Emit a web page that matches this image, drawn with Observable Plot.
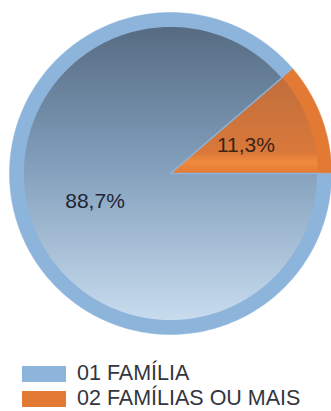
<!DOCTYPE html>
<html>
<head>
<meta charset="utf-8">
<script src="https://cdn.jsdelivr.net/npm/d3@7"></script>
<script src="https://cdn.jsdelivr.net/npm/@observablehq/plot@0.6"></script>
<style>
  html, body { margin: 0; padding: 0; background: #fff; overflow: hidden; }
  #chart { width: 331px; height: 411px; position: relative; }
  #legend { position: relative; height: 61px; font-family: "Liberation Sans", Arial, sans-serif; font-size: 21.5px; color: #333640; }
  .sw { position: absolute; left: 22px; width: 44px; height: 16px; }
  .lb { position: absolute; left: 77px; top: 0; line-height: 21px; white-space: nowrap; }
</style>
</head>
<body>
<div id="chart"></div>
<script>
// ---- data ----
const categories = ["01 FAMÍLIA", "02 FAMÍLIAS OU MAIS"];
const values = [88.7, 11.3];
const labels = ["88,7%", "11,3%"];
// drawing order: the orange slice starts at 3 o'clock, counter-clockwise
const drawOrder = [1, 0];

const rimColors = ["#8db4db", "#e27a33"];
const gradIds = ["gBlue", "gOrange"];

// compute slice angles (math convention, counter-clockwise from +x)
const total = d3.sum(values);
const slices = [];
let acc = 0;
for (const i of drawOrder) {
  const a0 = acc / total * 2 * Math.PI;
  acc += values[i];
  const a1 = acc / total * 2 * Math.PI;
  slices.push({i, cat: categories[i], value: values[i], label: labels[i], a0, a1});
}

function wedge(s, r) {
  const pts = [{x: 0, y: 0, cat: s.cat}];
  const n = Math.max(4, Math.ceil((s.a1 - s.a0) / (Math.PI / 180)));
  for (let k = 0; k <= n; k++) {
    const a = s.a0 + (s.a1 - s.a0) * k / n;
    pts.push({x: r * Math.cos(a), y: r * Math.sin(a), cat: s.cat});
  }
  return pts;
}

const marks = [];
for (const s of slices) {
  marks.push(Plot.line(wedge(s, 1), {x: "x", y: "y", curve: "linear-closed", fill: rimColors[s.i], stroke: rimColors[s.i], strokeWidth: 0.5}));
}
for (const s of slices) {
  marks.push(Plot.line(wedge(s, 0.915), {x: "x", y: "y", curve: "linear-closed", fill: `url(#${gradIds[s.i]})`,
    stroke: s.i === 0 ? "#8db4db" : "none", strokeWidth: s.i === 0 ? 1.5 : 0}));
}
const labelData = slices.map(s => {
  const m = (s.a0 + s.a1) / 2;
  return {x: 0.5 * Math.cos(m), y: 0.5 * Math.sin(m), label: s.label, i: s.i};
});
marks.push(Plot.text(labelData, {x: "x", y: "y", text: "label", fontSize: 21,
  fontFamily: "Liberation Sans, Arial, sans-serif", fill: d => d.i === 0 ? "#1e2535" : "#3a2414"}));

const svg = Plot.plot({
  width: 331,
  height: 350,
  marginLeft: 9, marginRight: 0, marginTop: 12, marginBottom: 16,
  x: {domain: [-1, 1], axis: null},
  y: {domain: [-1, 1], axis: null},
  style: {background: "transparent", overflow: "visible"},
  marks
});

const defs = d3.select(svg).insert("defs", ":first-child");
const gb = defs.append("linearGradient").attr("id", "gBlue").attr("x1", 0).attr("y1", 0).attr("x2", 0).attr("y2", 1);
gb.append("stop").attr("offset", "0%").attr("stop-color", "#566b82");
gb.append("stop").attr("offset", "45%").attr("stop-color", "#7f9cb9");
gb.append("stop").attr("offset", "100%").attr("stop-color", "#c8dcee");
const go = defs.append("linearGradient").attr("id", "gOrange").attr("x1", 0).attr("y1", 0).attr("x2", 0).attr("y2", 1);
go.append("stop").attr("offset", "0%").attr("stop-color", "#c06f3d");
go.append("stop").attr("offset", "78%").attr("stop-color", "#d9783a");
go.append("stop").attr("offset", "88%").attr("stop-color", "#f08a3c");
go.append("stop").attr("offset", "100%").attr("stop-color", "#e27a33");

const chart = document.getElementById("chart");
chart.appendChild(svg);

const legend = document.createElement("div");
legend.id = "legend";
const swTops = [16, 41];
const lbTops = [13, 38];
categories.forEach((c, i) => {
  const sw = document.createElement("div");
  sw.className = "sw";
  sw.style.top = swTops[i] + "px";
  sw.style.background = rimColors[i];
  legend.appendChild(sw);
  const lb = document.createElement("div");
  lb.className = "lb";
  lb.style.top = lbTops[i] + "px";
  lb.textContent = c;
  legend.appendChild(lb);
});
chart.appendChild(legend);
</script>
</body>
</html>
